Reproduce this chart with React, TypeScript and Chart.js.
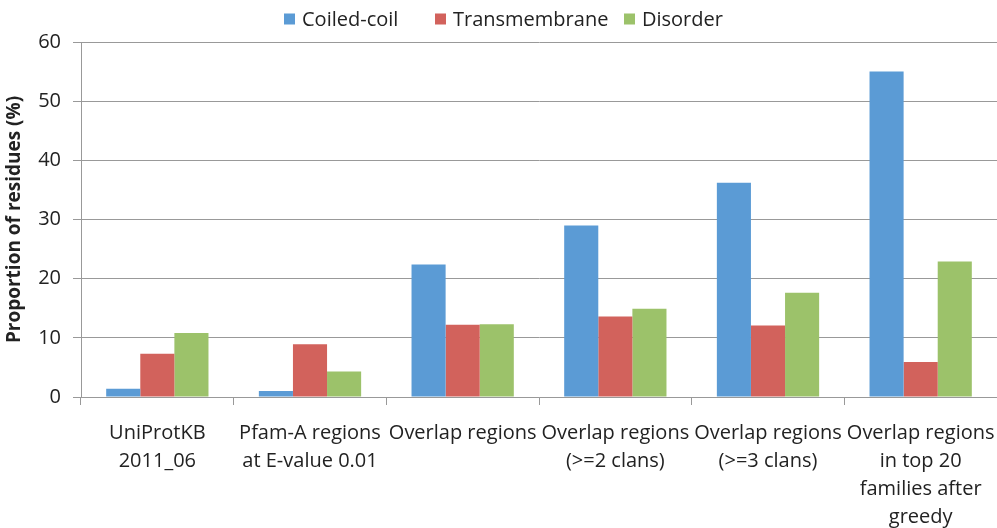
import React, { useEffect, useRef } from "react";
import { Chart, registerables } from "chart.js";

Chart.register(...registerables);

const categories: (string | string[])[] = [
  ["UniProtKB", "2011_06"],
  ["Pfam-A regions", "at E-value 0.01"],
  "Overlap regions",
  ["Overlap regions", "(>=2 clans)"],
  ["Overlap regions", "(>=3 clans)"],
  ["Overlap regions", "in top 20", "families after", "greedy"],
];
const coiledCoil = [1.4, 1.0, 22.4, 29.0, 36.2, 55.0];
const transmembrane = [7.3, 8.9, 12.2, 13.6, 12.1, 5.9];
const disorder = [10.8, 4.3, 12.3, 14.9, 17.6, 22.9];
const seriesNames = ["Coiled-coil", "Transmembrane", "Disorder"];
const seriesColors = ["#5B9BD5", "#D2625C", "#9CC26A"];

const FONT = "'Open Sans', 'Liberation Sans', sans-serif";
const TEXT = "#222222";

const legendBoxX = [284, 435, 624];

const legendPlugin = {
  id: "topLegend",
  afterDraw(chart: any) {
    const ctx = chart.ctx;
    ctx.save();
    ctx.font = `20px ${FONT}`;
    const box = 11;
    const y = 19;
    seriesNames.forEach((n, i) => {
      const x = legendBoxX[i];
      ctx.fillStyle = seriesColors[i];
      ctx.fillRect(x, y - box / 2, box, box);
      ctx.fillStyle = TEXT;
      ctx.textBaseline = "middle";
      ctx.textAlign = "left";
      ctx.fillText(n, x + box + 7, y + 1);
    });
    ctx.restore();
  },
};

export default function App() {
  const ref = useRef<HTMLCanvasElement>(null);
  useEffect(() => {
    if (!ref.current) return;
    const chart = new Chart(ref.current, {
      type: "bar",
      data: {
        labels: categories,
        datasets: [
          { label: seriesNames[0], data: coiledCoil, backgroundColor: seriesColors[0] },
          { label: seriesNames[1], data: transmembrane, backgroundColor: seriesColors[1] },
          { label: seriesNames[2], data: disorder, backgroundColor: seriesColors[2] },
        ],
      },
      plugins: [legendPlugin],
      options: {
        animation: false,
        responsive: false,
        maintainAspectRatio: false,
        layout: { padding: { top: 42, left: 0, right: -2, bottom: 0 } },
        datasets: { bar: { categoryPercentage: 0.67, barPercentage: 1 } },
        plugins: { legend: { display: false }, tooltip: { enabled: false } },
        scales: {
          x: {
            afterFit: (s: any) => {
              s.height = 131;
              s.paddingLeft = 0;
              s.paddingRight = 0;
            },
            grid: { display: true, drawOnChartArea: false, drawTicks: true, tickLength: 8, offset: true, color: "#999999" },
            border: { color: "#999999" },
            ticks: {
              font: { family: FONT, size: 20, lineHeight: 1.4 },
              color: TEXT,
              maxRotation: 0,
              autoSkip: false,
              padding: 14,
            },
          },
          y: {
            afterFit: (s: any) => {
              s.width = 81;
              s.paddingTop = 0;
              s.paddingBottom = 0;
            },
            min: 0,
            max: 60,
            grid: { color: "#999999", tickLength: 8 },
            border: { color: "#999999" },
            ticks: { stepSize: 10, font: { family: FONT, size: 20 }, color: TEXT, padding: 12 },
            title: {
              display: true,
              text: "Proportion of residues (%)",
              font: { family: FONT, size: 19, weight: "bold" },
              color: TEXT,
              padding: { top: 3, bottom: 10 },
            },
          },
        },
      },
    });
    return () => chart.destroy();
  }, []);
  return (
    <div style={{ position: "fixed", left: 0, top: 0, width: 997, height: 528, background: "#fff" }}>
      <canvas ref={ref} width={997} height={528} style={{ display: "block" }} />
    </div>
  );
}
